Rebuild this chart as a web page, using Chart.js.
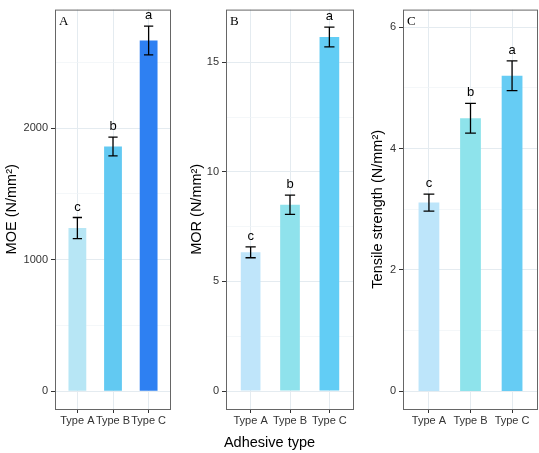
<!DOCTYPE html>
<html>
<head>
<meta charset="utf-8">
<script src="https://cdn.jsdelivr.net/npm/chart.js@4/dist/chart.umd.min.js"></script>
<style>
  body { margin: 0; background: #fff; }
  #wrap { position: relative; width: 539px; height: 453px; overflow: hidden; }
  canvas { position: absolute; top: 0; }
  #xtitle {
    position: absolute; left: 0; top: 434px; width: 539px; text-align: center;
    font: 14.5px "Liberation Sans", Arial, sans-serif; line-height: 17px; color: #000;
  }
</style>
</head>
<body>
<div id="wrap">
  <canvas id="moe" width="172" height="453" style="left:0px"></canvas>
  <canvas id="mor" width="183" height="453" style="left:172px"></canvas>
  <canvas id="ten" width="184" height="453" style="left:355px"></canvas>
  <div id="xtitle">Adhesive type</div>
</div>
<script>
// categories and group letters
const types = ["Type A", "Type B", "Type C"];
const letters = ["c", "b", "a"];

// A: MOE
const moeMean = [1240, 1860, 2665];
const moeSe = [80, 71, 109];
const moeTicks = [0, 1000, 2000];
const moeMinor = [500, 1500, 2500];

// B: MOR
const morMean = [6.33, 8.5, 16.15];
const morSe = [0.25, 0.44, 0.45];
const morTicks = [0, 5, 10, 15];
const morMinor = [2.5, 7.5, 12.5];

// C: tensile strength
const tenMean = [3.11, 4.5, 5.2];
const tenSe = [0.14, 0.245, 0.245];
const tenTicks = [0, 2, 4, 6];
const tenMinor = [1, 3, 5];

const sans = "'Liberation Sans', Arial, sans-serif";
const xs = types.map((t, i) => i + 1);

// error bars, group letters, panel frame and panel tag
const extras = {
  id: "extras",
  afterDatasetsDraw(chart, args, opts) {
    const c = chart.ctx;
    const xS = chart.scales.x, yS = chart.scales.y;
    const half = xS.getPixelForValue(1.13) - xS.getPixelForValue(1);
    c.save();
    c.strokeStyle = "#000";
    c.lineWidth = 1.3;
    opts.mean.forEach((m, i) => {
      const x = xS.getPixelForValue(xs[i]);
      const yt = yS.getPixelForValue(m + opts.se[i]);
      const yb = yS.getPixelForValue(m - opts.se[i]);
      c.beginPath();
      c.moveTo(x, yt); c.lineTo(x, yb);
      c.moveTo(x - half, yt); c.lineTo(x + half, yt);
      c.moveTo(x - half, yb); c.lineTo(x + half, yb);
      c.stroke();
      c.fillStyle = "#000";
      c.font = "13px " + sans;
      c.textAlign = "center";
      c.textBaseline = "alphabetic";
      c.fillText(letters[i], x, yt - 7);
    });
    const a = chart.chartArea;
    c.strokeStyle = "#666";
    c.lineWidth = 1;
    c.strokeRect(a.left - 0.5, a.top + 0.5, a.right - a.left + 1, a.bottom - a.top);
    c.fillStyle = "#000";
    c.font = "13px 'Liberation Serif', 'Times New Roman', serif";
    c.textAlign = "left";
    c.fillText(opts.tag, a.left + 3, a.top + 15);
    c.restore();
  }
};

function makePanel(id, p) {
  const major = new Set(p.ticks);
  new Chart(document.getElementById(id), {
    type: "bar",
    data: {
      datasets: [{
        data: p.mean.map((v, i) => ({ x: xs[i], y: v })),
        backgroundColor: p.colors,
        borderWidth: 0,
        barPercentage: 0.5,
        categoryPercentage: 1
      }]
    },
    options: {
      responsive: false,
      animation: false,
      devicePixelRatio: 1,
      layout: { padding: { top: 2, right: p.padRight, left: 0, bottom: 0 } },
      plugins: {
        legend: { display: false },
        tooltip: { enabled: false },
        extras: { mean: p.mean, se: p.se, tag: p.tag }
      },
      scales: {
        x: {
          type: "linear",
          offset: false,
          min: 0.4,
          max: 3.6,
          afterBuildTicks: s => { s.ticks = xs.map(v => ({ value: v })); },
          afterFit: s => { s.height = 44; },
          ticks: {
            autoSkip: false, maxRotation: 0, padding: 1,
            color: "#333", font: { family: sans, size: 11 },
            callback: v => types[v - 1]
          },
          grid: { offset: false, color: "#e4ebf0", lineWidth: 1, tickLength: 4, tickColor: "#333", tickWidth: 1 },
          border: { display: false }
        },
        y: {
          min: p.range[0],
          max: p.range[1],
          afterBuildTicks: s => {
            s.ticks = p.ticks.concat(p.minor).sort((a, b) => a - b).map(v => ({ value: v }));
          },
          afterFit: s => { s.width = p.axisWidth; },
          ticks: {
            padding: 3, autoSkip: false,
            color: "#333", font: { family: sans, size: 11 },
            callback: v => major.has(v) ? String(v) : ""
          },
          grid: {
            color: c => major.has(c.tick.value) ? "#e4ebf0" : "#eff3f6",
            lineWidth: c => major.has(c.tick.value) ? 1 : 0.7,
            tickLength: 5,
            tickWidth: 1,
            tickColor: c => major.has(c.tick.value) ? "#333" : "rgba(0,0,0,0)"
          },
          border: { display: false },
          title: {
            display: true, text: p.title, color: "#000",
            font: { family: sans, size: 14.5 },
            padding: { top: p.titlePad, bottom: 0 }
          }
        }
      }
    },
    plugins: [extras]
  });
}

makePanel("moe", {
  mean: moeMean, se: moeSe, ticks: moeTicks, minor: moeMinor,
  range: [-135, 2900], tag: "A", title: "MOE (N/mm²)",
  colors: ["#b7e6f5", "#62c9f2", "#2e80f2"],
  axisWidth: 56, padRight: 2, titlePad: 3.3
});
makePanel("mor", {
  mean: morMean, se: morSe, ticks: morTicks, minor: morMinor,
  range: [-0.82, 17.4], tag: "B", title: "MOR (N/mm²)",
  colors: ["#bfe5fa", "#8fe2ec", "#62cdf5"],
  axisWidth: 55, padRight: 2, titlePad: 16.3
});
makePanel("ten", {
  mean: tenMean, se: tenSe, ticks: tenTicks, minor: tenMinor,
  range: [-0.29, 6.29], tag: "C", title: "Tensile strength (N/mm²)",
  colors: ["#bde5fa", "#8ee3eb", "#66ccf4"],
  axisWidth: 49, padRight: 2, titlePad: 14.3
});
</script>
</body>
</html>
